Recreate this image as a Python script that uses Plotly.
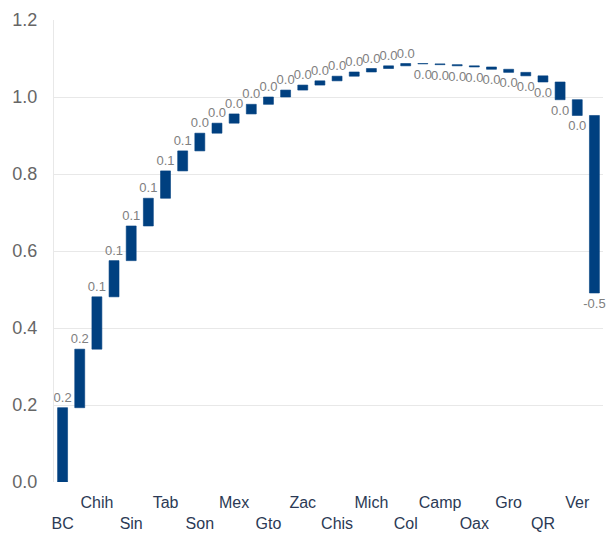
import plotly.graph_objects as go

# State contributions (ordered as plotted)
states = ["BC", "Coah", "Chih", "NL", "Sin", "Tamps", "Tab", "Dgo", "Son", "Ags",
          "Mex", "Qro", "Gto", "Jal", "Zac", "SLP", "Chis", "Hgo", "Mich", "Nay",
          "Col", "Pue", "Camp", "Yuc", "Oax", "Mor", "Gro", "Tlax", "QR", "BCS",
          "Ver", "CDMX"]
contrib = [0.193, 0.152, 0.136, 0.094, 0.090, 0.072, 0.071, 0.052, 0.046, 0.026,
           0.024, 0.025, 0.019, 0.018, 0.013, 0.011, 0.012, 0.011, 0.009, 0.007,
           0.006, -0.001, -0.002, -0.003, -0.003, -0.006, -0.008, -0.009, -0.016, -0.046,
           -0.041, -0.461]

# Axis tick labels: every other state, alternating between two rows
shown = states[::2]
ticktext = [("<br>" + s) if i % 2 == 0 else s for i, s in enumerate(shown)]
y_ticks = [0.0, 0.2, 0.4, 0.6, 0.8, 1.0, 1.2]

labels = [f"{round(v, 1) + 0.0:.1f}" for v in contrib]

bar_color = "#004080"

fig = go.Figure(go.Waterfall(
    x=states,
    y=contrib,
    measure=["relative"] * len(contrib),
    text=labels,
    textposition="outside",
    textfont=dict(size=13, color="#808080", family="Arial, Liberation Sans, sans-serif"),
    constraintext="none",
    cliponaxis=False,
    width=0.58,
    increasing=dict(marker=dict(color=bar_color, line=dict(color=bar_color, width=0.6))),
    decreasing=dict(marker=dict(color=bar_color, line=dict(color=bar_color, width=0.6))),
    connector=dict(visible=False),
))

fig.update_layout(
    width=608,
    height=533,
    margin=dict(l=54, r=5, t=20, b=51),
    paper_bgcolor="white",
    plot_bgcolor="white",
    showlegend=False,
    font=dict(family="Arial, Liberation Sans, sans-serif"),
)

fig.update_xaxes(
    type="category",
    tickmode="array",
    tickvals=shown,
    ticktext=ticktext,
    tickfont=dict(size=16, color="#2b3a55"),
    showgrid=False,
    showline=False,
    zeroline=False,
    ticks="",
    tickangle=0,
    ticklabelstandoff=9,
    automargin=False,
    range=[-0.5, len(states) - 0.5],
)

fig.update_yaxes(
    range=[0, 1.2],
    tickmode="array",
    tickvals=y_ticks,
    tickformat=".1f",
    tickfont=dict(size=18, color="#666666"),
    gridcolor="#e8e8e8",
    gridwidth=1,
    showline=True,
    linecolor="#e8e8e8",
    zeroline=False,
    ticks="",
    ticklabelstandoff=12,
    automargin=False,
)

fig.write_html("out.html")
